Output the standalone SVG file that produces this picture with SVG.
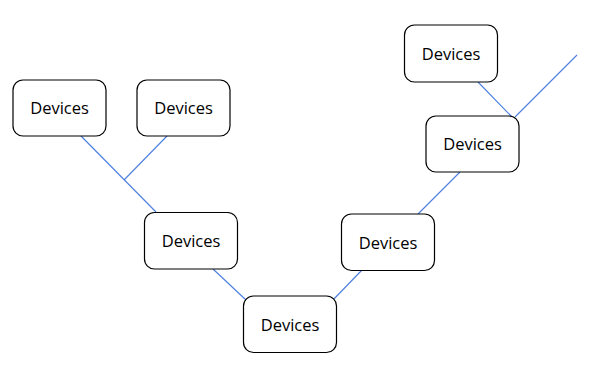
<svg xmlns="http://www.w3.org/2000/svg" width="593" height="377" viewBox="0 0 593 377">
<style>
.n rect{fill:#fff;stroke:#000;stroke-width:1.2}
.n text{font-family:"Open Sans","Noto Sans",sans-serif;font-size:16.5px;fill:#000;text-anchor:middle}
#conn line{stroke:#4A7EE0;stroke-width:1.1}
</style>
<rect width="593" height="377" fill="#fff"/>
<g id="conn">
<line x1="81" y1="136" x2="156" y2="212"/>
<line x1="167" y1="136" x2="124" y2="180"/>
<line x1="213" y1="269" x2="246" y2="300"/>
<line x1="331" y1="302" x2="362" y2="270"/>
<line x1="418" y1="214" x2="460" y2="172"/>
<line x1="478" y1="82" x2="512" y2="117"/>
<line x1="515" y1="117" x2="577" y2="55"/>
</g>
<g id="n1" class="n"><rect x="13" y="80" width="93" height="56" rx="10"/><text x="59.5" y="114">Devices</text></g>
<g id="n2" class="n"><rect x="137" y="80" width="93" height="56" rx="10"/><text x="183.5" y="114">Devices</text></g>
<g id="n3" class="n"><rect x="144.5" y="212.5" width="93" height="56.5" rx="10"/><text x="191" y="247">Devices</text></g>
<g id="n4" class="n"><rect x="243.5" y="296" width="93" height="56.5" rx="10"/><text x="290" y="330.5">Devices</text></g>
<g id="n5" class="n"><rect x="341.5" y="214" width="93" height="56.5" rx="10"/><text x="388" y="248.5">Devices</text></g>
<g id="n6" class="n"><rect x="426" y="116" width="93" height="56" rx="10"/><text x="472.5" y="150">Devices</text></g>
<g id="n7" class="n"><rect x="404.5" y="25" width="93" height="57" rx="10"/><text x="451" y="59.5">Devices</text></g>
</svg>
